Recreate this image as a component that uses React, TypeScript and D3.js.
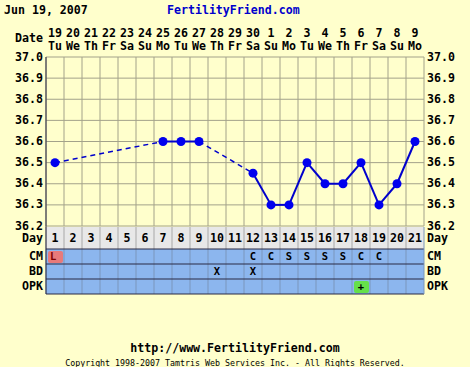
import * as d3 from "d3";

const dates = ["19", "20", "21", "22", "23", "24", "25", "26", "27", "28", "29", "30", "1", "2", "3", "4", "5", "6", "7", "8", "9"];
const weekdays = ["Tu", "We", "Th", "Fr", "Sa", "Su", "Mo", "Tu", "We", "Th", "Fr", "Sa", "Su", "Mo", "Tu", "We", "Th", "Fr", "Sa", "Su", "Mo"];
const temps: (number | null)[] = [36.5, null, null, null, null, null, 36.6, 36.6, 36.6, null, null, 36.45, 36.3, 36.3, 36.5, 36.4, 36.4, 36.5, 36.3, 36.4, 36.6];
const cm = ["L", "", "", "", "", "", "", "", "", "", "", "C", "C", "S", "S", "S", "S", "C", "C", "", ""];
const bd = ["", "", "", "", "", "", "", "", "", "X", "", "X", "", "", "", "", "", "", "", "", ""];
const opk = ["", "", "", "", "", "", "", "", "", "", "", "", "", "", "", "", "", "+", "", "", ""];
const yTicks = [37.0, 36.9, 36.8, 36.7, 36.6, 36.5, 36.4, 36.3, 36.2];

const W = 470;
const H = 367;
const left = 46;
const right = 424;
const top = 57;
const bottom = 226;
const font = "'DejaVu Sans Mono', monospace";
const fs = 11.6;
const bg = "#ffffcc";
const blue = "#0000cc";
const grid = "#a3a28a";

export default function App() {
  const days = d3.range(1, dates.length + 1);
  const x = d3.scaleBand<number>().domain(days).range([left, right]);
  const bw = x.bandwidth();
  const cx = (d: number) => (x(d) ?? 0) + bw / 2;
  const y = d3.scaleLinear().domain([36.2, 37.0]).range([bottom, top]);

  const pts = temps
    .map((t, i) => ({ day: i + 1, t }))
    .filter((p) => p.t !== null) as { day: number; t: number }[];
  const segs = d3.pairs(pts).map(([a, b]) => ({ a, b, gap: b.day - a.day > 1 }));

  const rows = [
    { name: "CM", vals: cm, y0: 249, h: 15 },
    { name: "BD", vals: bd, y0: 264, h: 15 },
    { name: "OPK", vals: opk, y0: 279, h: 15 },
  ];
  const dayRow = { y0: 227, h: 22 };

  return (
    <svg width={W} height={H} style={{ position: "absolute", left: 0, top: 0 }} fontFamily={font} fontWeight="bold">
      <rect width={W} height={H} fill={bg} />
      <text x={4} y={14} fontSize={fs}>Jun 19, 2007</text>
      <text x={167} y={14} fontSize={fs} fill={blue}>FertilityFriend.com</text>
      <text x={43} y={42} fontSize={fs} textAnchor="end">Date</text>
      {days.map((d, i) => (
        <g key={d} fontSize={fs} textAnchor="middle">
          <text x={cx(d)} y={37}>{dates[i]}</text>
          <text x={cx(d)} y={50}>{weekdays[i]}</text>
        </g>
      ))}

      {/* grid */}
      {yTicks.map((t) => (
        <line key={t} x1={left} x2={right} y1={y(t)} y2={y(t)} stroke={grid} />
      ))}
      {days.map((d) => (
        <line key={d} x1={x(d)} x2={x(d)} y1={top} y2={bottom} stroke={grid} />
      ))}
      <line x1={right} x2={right} y1={top} y2={bottom} stroke={grid} />
      {yTicks.map((t) => (
        <g key={t} fontSize={fs}>
          <text x={43} y={y(t) + 3.5} textAnchor="end">{t.toFixed(1)}</text>
          <text x={427} y={y(t) + 3.5}>{t.toFixed(1)}</text>
        </g>
      ))}

      {/* day row */}
      <rect x={left} y={dayRow.y0} width={right - left} height={dayRow.h} fill="#e8e8e8" />
      {days.map((d) => (
        <g key={d}>
          <line x1={x(d)} x2={x(d)} y1={dayRow.y0} y2={dayRow.y0 + dayRow.h} stroke="#a8a8a8" />
          <text x={cx(d)} y={dayRow.y0 + 15} fontSize={fs} textAnchor="middle">{d}</text>
        </g>
      ))}
      <text x={43} y={dayRow.y0 + 15} fontSize={fs} textAnchor="end">Day</text>
      <text x={427} y={dayRow.y0 + 15} fontSize={fs}>Day</text>

      {/* observation rows */}
      {rows.map((r) => (
        <g key={r.name}>
          <rect x={left} y={r.y0} width={right - left} height={r.h} fill="#8cb6ee" />
          {days.map((d, i) => {
            const v = r.vals[i];
            const cell = v === "L" ? "#e87a7a" : v === "+" ? "#66e04a" : null;
            return (
              <g key={d}>
                {cell && <rect x={(x(d) ?? 0) + 2} y={r.y0 + 2} width={bw - 3} height={r.h - 3} rx={2} fill={cell} />}
                <line x1={x(d)} x2={x(d)} y1={r.y0} y2={r.y0 + r.h} stroke="#7a96bc" />
                {v && (
                  <text x={v === "L" ? (x(d) ?? 0) + 4 : cx(d)} y={r.y0 + 11} fontSize={10.5} textAnchor={v === "L" ? "start" : "middle"} fill={v === "L" ? "#800000" : "#000"}>
                    {v}
                  </text>
                )}
              </g>
            );
          })}
          <line x1={left} x2={right} y1={r.y0} y2={r.y0} stroke="#2a2a44" />
          <text x={43} y={r.y0 + 11} fontSize={fs} textAnchor="end">{r.name}</text>
          <text x={427} y={r.y0 + 11} fontSize={fs}>{r.name}</text>
        </g>
      ))}
      <line x1={left} x2={right} y1={294} y2={294} stroke="#2a2a44" />
      <line x1={left} x2={left} y1={top} y2={294} stroke="#2a2a44" />
      <line x1={right} x2={right} y1={dayRow.y0} y2={294} stroke="#7a96bc" />

      {/* temperature line */}
      {segs.map((s, i) => (
        <line
          key={i}
          x1={cx(s.a.day)}
          y1={y(s.a.t)}
          x2={cx(s.b.day)}
          y2={y(s.b.t)}
          stroke={blue}
          strokeWidth={s.gap ? 1.5 : 2}
          strokeDasharray={s.gap ? "5,4" : undefined}
        />
      ))}
      {pts.map((p) => (
        <circle key={p.day} cx={cx(p.day)} cy={y(p.t)} r={4.5} fill="#0000ee" />
      ))}

      <text x={W / 2} y={352} fontSize={fs} textAnchor="middle">http://www.FertilityFriend.com</text>
      <text x={W / 2} y={366} fontSize={8.3} fontWeight="normal" textAnchor="middle">Copyright 1998-2007 Tamtris Web Services Inc. - All Rights Reserved.</text>
    </svg>
  );
}
